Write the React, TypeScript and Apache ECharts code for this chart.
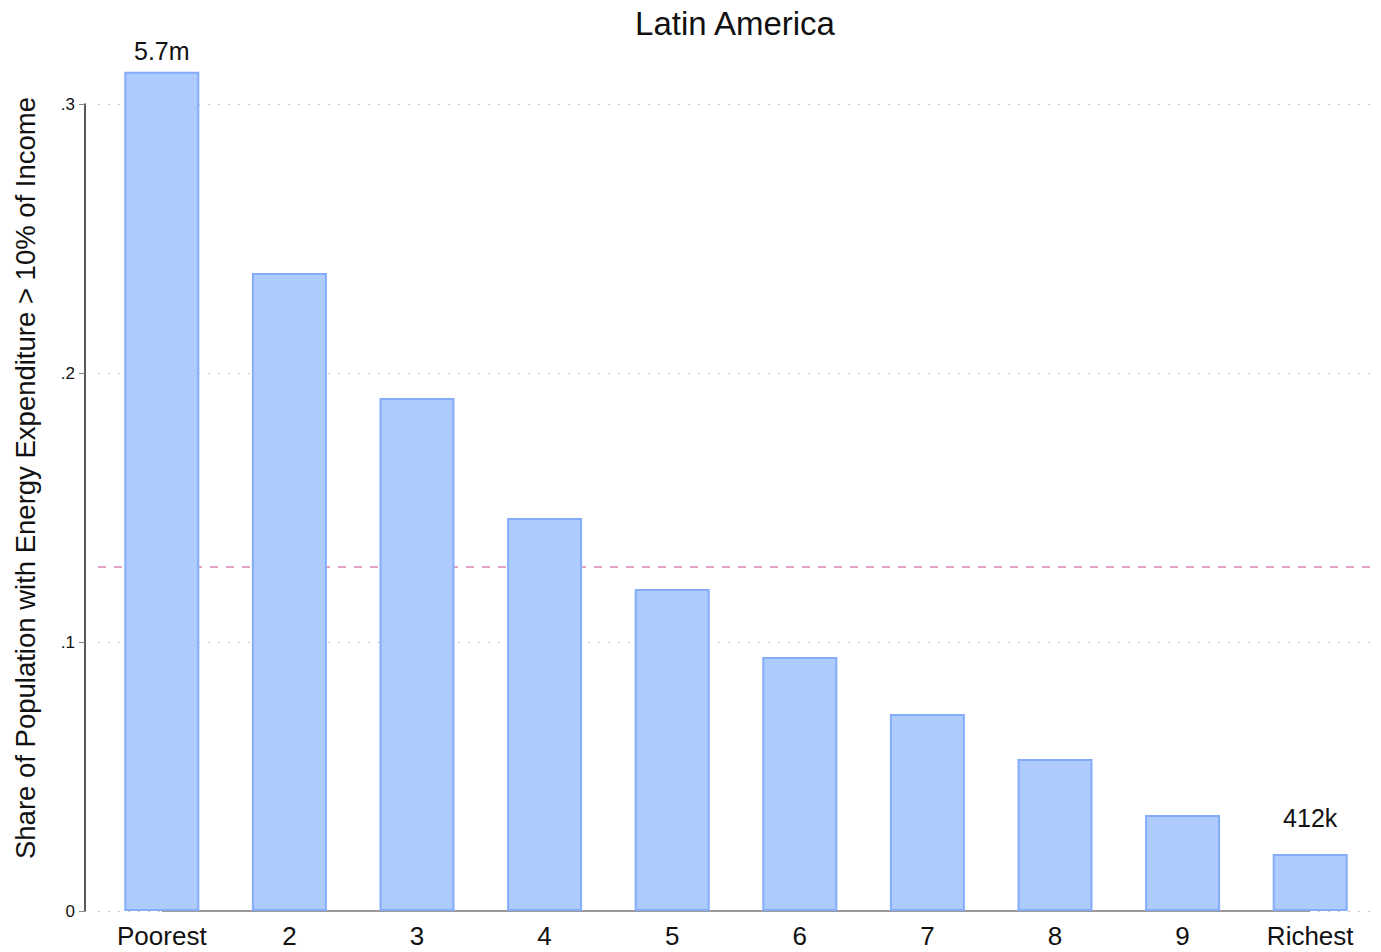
import React, { useEffect, useRef } from "react";
import * as echarts from "echarts";

const categories = ["Poorest", "2", "3", "4", "5", "6", "7", "8", "9", "Richest"];
const shares = [0.312, 0.2372, 0.1907, 0.1461, 0.1197, 0.0944, 0.0732, 0.0565, 0.0357, 0.0212];
const barLabels = ["5.7m", "", "", "", "", "", "", "", "", "412k"];
const meanShare = 0.1279;
const yTicks = [0, 0.1, 0.2, 0.3];
const yTickLabels = ["0", ".1", ".2", ".3"];
const titleText = "Latin America";
const yTitle = "Share of Population with Energy Expenditure > 10% of Income";

export default function App() {
  const ref = useRef<HTMLDivElement>(null);
  useEffect(() => {
    if (!ref.current) return;
    const chart = echarts.init(ref.current, null, { renderer: "svg" });
    const font = "Liberation Sans, Arial, sans-serif";
    chart.setOption({
      animation: false,
      backgroundColor: "#ffffff",
      textStyle: { fontFamily: font },
      title: {
        text: titleText,
        left: 730,
        top: 2,
        textAlign: "center",
        textStyle: { fontFamily: font, fontSize: 33, fontWeight: "normal", color: "#111" },
      },
      grid: { left: 98, right: 7, top: 104, bottom: 41 },
      xAxis: {
        type: "category",
        data: categories,
        axisLine: { show: false },
        axisTick: { show: false },
        axisLabel: { fontFamily: font, fontSize: 26, color: "#111", margin: 12, interval: 0 },
      },
      yAxis: {
        type: "value",
        min: 0,
        max: 0.3,
        interval: 0.1,
        offset: 13,
        axisLine: { show: true, lineStyle: { color: "#222", width: 1.5 } },
        axisTick: { show: true, length: 6, lineStyle: { color: "#888" } },
        axisLabel: {
          fontFamily: font,
          fontSize: 17,
          color: "#111",
          margin: 10,
          formatter: (v: number) => {
            const i = yTicks.findIndex((t) => Math.abs(t - v) < 1e-9);
            return i >= 0 ? yTickLabels[i] : "";
          },
        },
        splitLine: { show: true, lineStyle: { color: "#c8c8c8", type: [2, 8], width: 1.2 } },
      },
      graphic: [
        {
          type: "text",
          x: 25,
          y: 478,
          rotation: Math.PI / 2,
          style: {
            text: yTitle,
            fontFamily: font,
            fontSize: 27.5,
            fill: "#111",
            align: "center",
            verticalAlign: "middle",
          },
        },
      ],
      series: [
        {
          type: "bar",
          clip: false,
          barWidth: 75,
          z: 3,
          data: shares.map((v, i) => ({
            value: v,
            label: {
              show: barLabels[i] !== "",
              formatter: barLabels[i],
              position: "top",
              distance: i === shares.length - 1 ? 23 : 8,
              fontFamily: font,
              fontSize: 25,
              color: "#111",
            },
          })),
          itemStyle: { color: "#aecbfd", borderColor: "#84acfb", borderWidth: 2 },
          markLine: {
            silent: true,
            symbol: "none",
            precision: 4,
            label: { show: false },
            z: 2,
            data: [
              {
                yAxis: meanShare,
                lineStyle: { color: "#d98ab8", type: [8, 8], width: 1.5 },
              },
              [
                { coord: [categories[0], 0], lineStyle: { color: "#9a9a9a", type: "solid", width: 2 } },
                { coord: [categories[categories.length - 1], 0] },
              ],
            ],
          },
        },
      ],
    });
    return () => chart.dispose();
  }, []);
  return (
    <div
      ref={ref}
      style={{ position: "absolute", left: 0, top: 0, width: 1381, height: 952 }}
    />
  );
}
